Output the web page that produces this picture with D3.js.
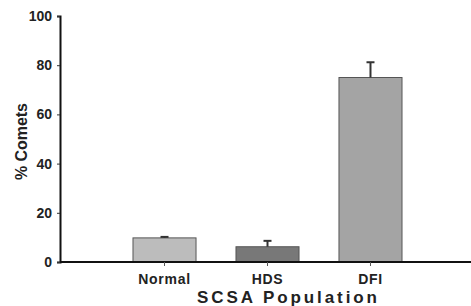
<!DOCTYPE html>
<html><head><meta charset="utf-8">
<script src="https://cdn.jsdelivr.net/npm/d3@7"></script>
<style>body{margin:0;background:#fff}svg{display:block}text{font-family:"Liberation Sans",Arial,sans-serif;font-weight:bold;fill:#222}</style>
</head><body>
<script>
const categories = ["Normal", "HDS", "DFI"];
const values = [9.8, 6.2, 75];
const errors = [0.4, 2.4, 6.2];
const colors = ["#bcbcbc", "#787878", "#a4a4a4"];
const yTicks = [0, 20, 40, 60, 80, 100];

const W = 471, H = 306;
const svg = d3.select("body").append("svg").attr("width", W).attr("height", H);
const x0 = 60, x1 = 473, yTop = 16, yBot = 262;
const x = d3.scaleBand().domain(categories).range([81.5, 453.5]).paddingInner(0.388).paddingOuter(0.5);
const y = d3.scaleLinear().domain([0, 100]).range([yBot, yTop]);

// bars
svg.selectAll("rect.bar").data(categories).enter().append("rect")
  .attr("x", d => x(d)).attr("width", x.bandwidth())
  .attr("y", (d, i) => y(values[i])).attr("height", (d, i) => yBot - y(values[i]))
  .attr("fill", (d, i) => colors[i]).attr("stroke", "#555").attr("stroke-width", 1);

// error bars
categories.forEach((c, i) => {
  const cx = x(c) + x.bandwidth() / 2;
  svg.append("line").attr("x1", cx).attr("x2", cx).attr("y1", y(values[i])).attr("y2", y(values[i] + errors[i]))
    .attr("stroke", "#333").attr("stroke-width", 2);
  svg.append("line").attr("x1", cx - 4).attr("x2", cx + 4).attr("y1", y(values[i] + errors[i])).attr("y2", y(values[i] + errors[i]))
    .attr("stroke", "#333").attr("stroke-width", 2);
});

// y axis
const ya = svg.append("g").attr("transform", `translate(${x0},0)`)
  .call(d3.axisLeft(y).tickValues(yTicks).tickSize(3).tickPadding(5));
ya.select(".domain").attr("stroke", "#111").attr("stroke-width", 2);
ya.selectAll(".tick line").attr("stroke", "#333");
ya.selectAll(".tick text").attr("font-size", 14).style("font-family", "'Liberation Sans',Arial,sans-serif").style("font-weight", "bold").attr("fill", "#222");

// x axis
const xa = svg.append("g").attr("transform", `translate(0,${yBot})`)
  .call(d3.axisBottom(x).tickSize(4).tickPadding(8).tickSizeOuter(0));
xa.select(".domain").attr("d", `M${x0},0H${x1}`).attr("stroke", "#111").attr("stroke-width", 2);
xa.selectAll(".tick line").attr("stroke", "#555");
xa.selectAll(".tick text").attr("font-size", 14).attr("letter-spacing", 0.7).style("font-family", "'Liberation Sans',Arial,sans-serif").style("font-weight", "bold").attr("fill", "#222");

svg.append("text").attr("transform", `translate(27,180) rotate(-90)`)
  .attr("text-anchor", "start").attr("font-size", 16).attr("textLength", 77).attr("lengthAdjust", "spacing").text("% Comets");
svg.append("text").attr("x", 197).attr("y", 303).attr("text-anchor", "start")
  .attr("font-size", 17).attr("textLength", 180).attr("lengthAdjust", "spacing").text("SCSA Population");
</script>
</body></html>
